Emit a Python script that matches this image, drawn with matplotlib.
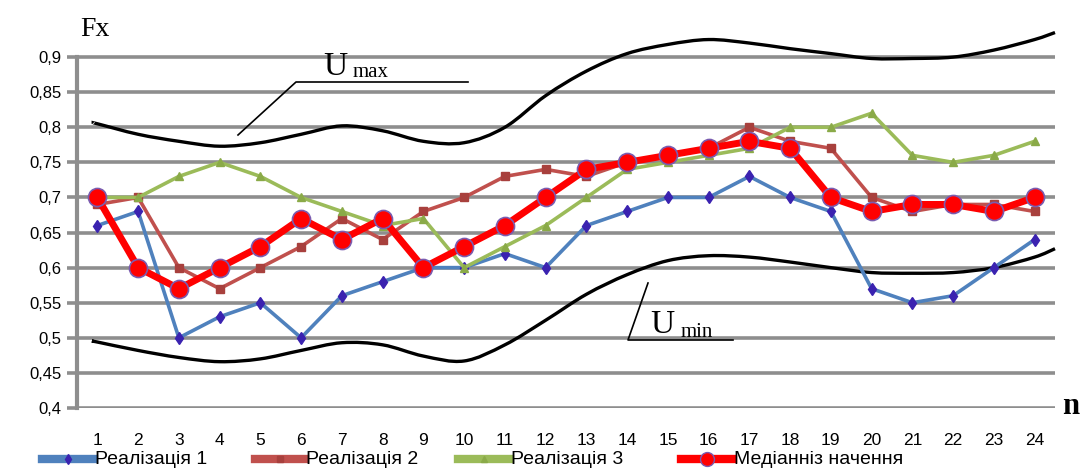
import matplotlib
matplotlib.use("Agg")
import matplotlib.pyplot as plt
from matplotlib.path import Path
from matplotlib.patches import PathPatch
from matplotlib.lines import Line2D
import numpy as np

n = list(range(1, 25))
real1 = [0.66, 0.68, 0.50, 0.53, 0.55, 0.50, 0.56, 0.58, 0.60, 0.60, 0.62, 0.60,
         0.66, 0.68, 0.70, 0.70, 0.73, 0.70, 0.68, 0.57, 0.55, 0.56, 0.60, 0.64]
real2 = [0.69, 0.70, 0.60, 0.57, 0.60, 0.63, 0.67, 0.64, 0.68, 0.70, 0.73, 0.74,
         0.73, 0.75, 0.76, 0.77, 0.80, 0.78, 0.77, 0.70, 0.68, 0.69, 0.69, 0.68]
real3 = [0.70, 0.70, 0.73, 0.75, 0.73, 0.70, 0.68, 0.66, 0.67, 0.60, 0.63, 0.66,
         0.70, 0.74, 0.75, 0.76, 0.77, 0.80, 0.80, 0.82, 0.76, 0.75, 0.76, 0.78]
median = [0.70, 0.60, 0.57, 0.60, 0.63, 0.67, 0.64, 0.67, 0.60, 0.63, 0.66, 0.70,
          0.74, 0.75, 0.76, 0.77, 0.78, 0.77, 0.70, 0.68, 0.69, 0.69, 0.68, 0.70]
u_x = [0.9] + n + [24.5]
umax = [0.806, 0.805, 0.79, 0.78, 0.773, 0.778, 0.79, 0.802, 0.795, 0.78, 0.778, 0.80, 0.845,
        0.88, 0.905, 0.918, 0.925, 0.92, 0.912, 0.905, 0.898, 0.898, 0.90, 0.91, 0.925, 0.935]
umin = [0.495, 0.494, 0.482, 0.472, 0.466, 0.47, 0.482, 0.493, 0.49, 0.474, 0.467, 0.49, 0.525,
        0.562, 0.59, 0.61, 0.617, 0.615, 0.608, 0.60, 0.593, 0.592, 0.593, 0.60, 0.615, 0.627]
yticks = [0.4, 0.45, 0.5, 0.55, 0.6, 0.65, 0.7, 0.75, 0.8, 0.85, 0.9]
ytick_labels = ["0,4", "0,45", "0,5", "0,55", "0,6", "0,65", "0,7", "0,75", "0,8", "0,85", "0,9"]
legend_labels = ["Реалізація 1", "Реалізація 2", "Реалізація 3", "Медіанніз начення"]

W, H = 1088, 468
fig = plt.figure(figsize=(10.88, 4.68), dpi=100)
ax = fig.add_axes([77/W, 1-408/H, (1055-77)/W, (408-22)/H])
ax.set_xlim(0.5, 24.5)
ax.set_ylim(0.4, 0.95)

for y in yticks:
    ax.axhline(y, color="#8e8e8e", lw=2.6, zorder=1)

def smooth_path(xs, ys):
    xs = np.asarray(xs, float); ys = np.asarray(ys, float)
    verts = [(xs[0], ys[0])]; codes = [Path.MOVETO]
    for i in range(len(xs)-1):
        p0 = np.array([xs[max(i-1, 0)], ys[max(i-1, 0)]])
        p1 = np.array([xs[i], ys[i]])
        p2 = np.array([xs[i+1], ys[i+1]])
        p3 = np.array([xs[min(i+2, len(xs)-1)], ys[min(i+2, len(xs)-1)]])
        c1 = p1 + (p2 - p0) / 6.0
        c2 = p2 - (p3 - p1) / 6.0
        verts += [tuple(c1), tuple(c2), tuple(p2)]
        codes += [Path.CURVE4]*3
    return Path(verts, codes)

for ys in (umax, umin):
    ax.add_patch(PathPatch(smooth_path(u_x, ys), fill=False, ec="black", lw=2.4, zorder=3, clip_on=False))

styles = [
    dict(color="#4f81bd", lw=2.6, marker="d", ms=6, mfc="#3a22b0", mec="#3a22b0"),
    dict(color="#c0504d", lw=2.6, marker="s", ms=6, mfc="#a8403d", mec="#a8403d"),
    dict(color="#9bbb59", lw=2.6, marker="^", ms=6, mfc="#8aaa48", mec="#8aaa48"),
    dict(color="#ff0000", lw=5, marker="o", ms=13, mfc="#ff0000", mec="#7a5cb0", mew=1.2),
]
for ys, st, z in zip((real1, real2, real3, median), styles, (4, 4, 4, 5)):
    ax.plot(n, ys, zorder=z, **st)

for s in ["top", "right", "bottom"]:
    ax.spines[s].set_visible(False)
ax.spines["left"].set_color("#8e8e8e"); ax.spines["left"].set_linewidth(3)
ax.spines["left"].set_bounds(0.4, 0.9)
ax.set_yticks(yticks)
ax.set_yticklabels(ytick_labels, fontsize=12, family="Liberation Sans")
ax.tick_params(axis="y", length=7, width=2.6, color="#8e8e8e", pad=4)
ax.set_xticks(n)
ax.set_xticklabels([str(i) for i in n], fontsize=12.5, family="Liberation Sans")
ax.tick_params(axis="x", length=0, pad=18)

serif = "Liberation Serif"
fig.text(80/W, 1-30/H, "Fx", fontsize=20, family=serif, va="center", ha="left")
fig.text(1062/W, 1-406/H, "n", fontsize=22, family=serif, fontweight="bold", va="center", ha="left")

# Umax annotation
fig.add_artist(Line2D([238/W, 296/W, 468/W], [1-135/H, 1-82/H, 1-82/H], color="black", lw=1.2))
fig.text(323/W, 1-82/H, "U", fontsize=24, family=serif, va="bottom", ha="left")
fig.text(353/W, 1-82/H, "max", fontsize=15, family=serif, va="bottom", ha="left")
# Umin annotation
fig.add_artist(Line2D([648/W, 628/W, 733/W], [1-283/H, 1-340/H, 1-340/H], color="black", lw=1.2))
fig.text(650/W, 1-340/H, "U", fontsize=24, family=serif, va="bottom", ha="left")
fig.text(681/W, 1-342/H, "min", fontsize=15, family=serif, va="bottom", ha="left")

# legend (manual, horizontal)
leg_x = [(42, 94), (255, 305), (458, 510), (681, 733)]
leg_y = 1 - 459/H
for (x0, x1), st, lab in zip(leg_x, styles, legend_labels):
    st2 = dict(st)
    st2["lw"] = 6
    st2["ms"] = 10 if st["marker"] == "o" else 5
    fig.add_artist(Line2D([x0/W, x1/W], [leg_y, leg_y], **{k: v for k, v in st2.items() if k != "marker"}))
    fig.add_artist(Line2D([(x0+x1)/2/W], [leg_y], linestyle="none", marker=st2["marker"], ms=st2["ms"],
                          mfc=st2["mfc"], mec=st2["mec"]))
    fig.text((x1+1)/W, leg_y, lab, fontsize=14, family="Liberation Sans", va="center", ha="left")

fig.savefig("out.png", dpi=100)
